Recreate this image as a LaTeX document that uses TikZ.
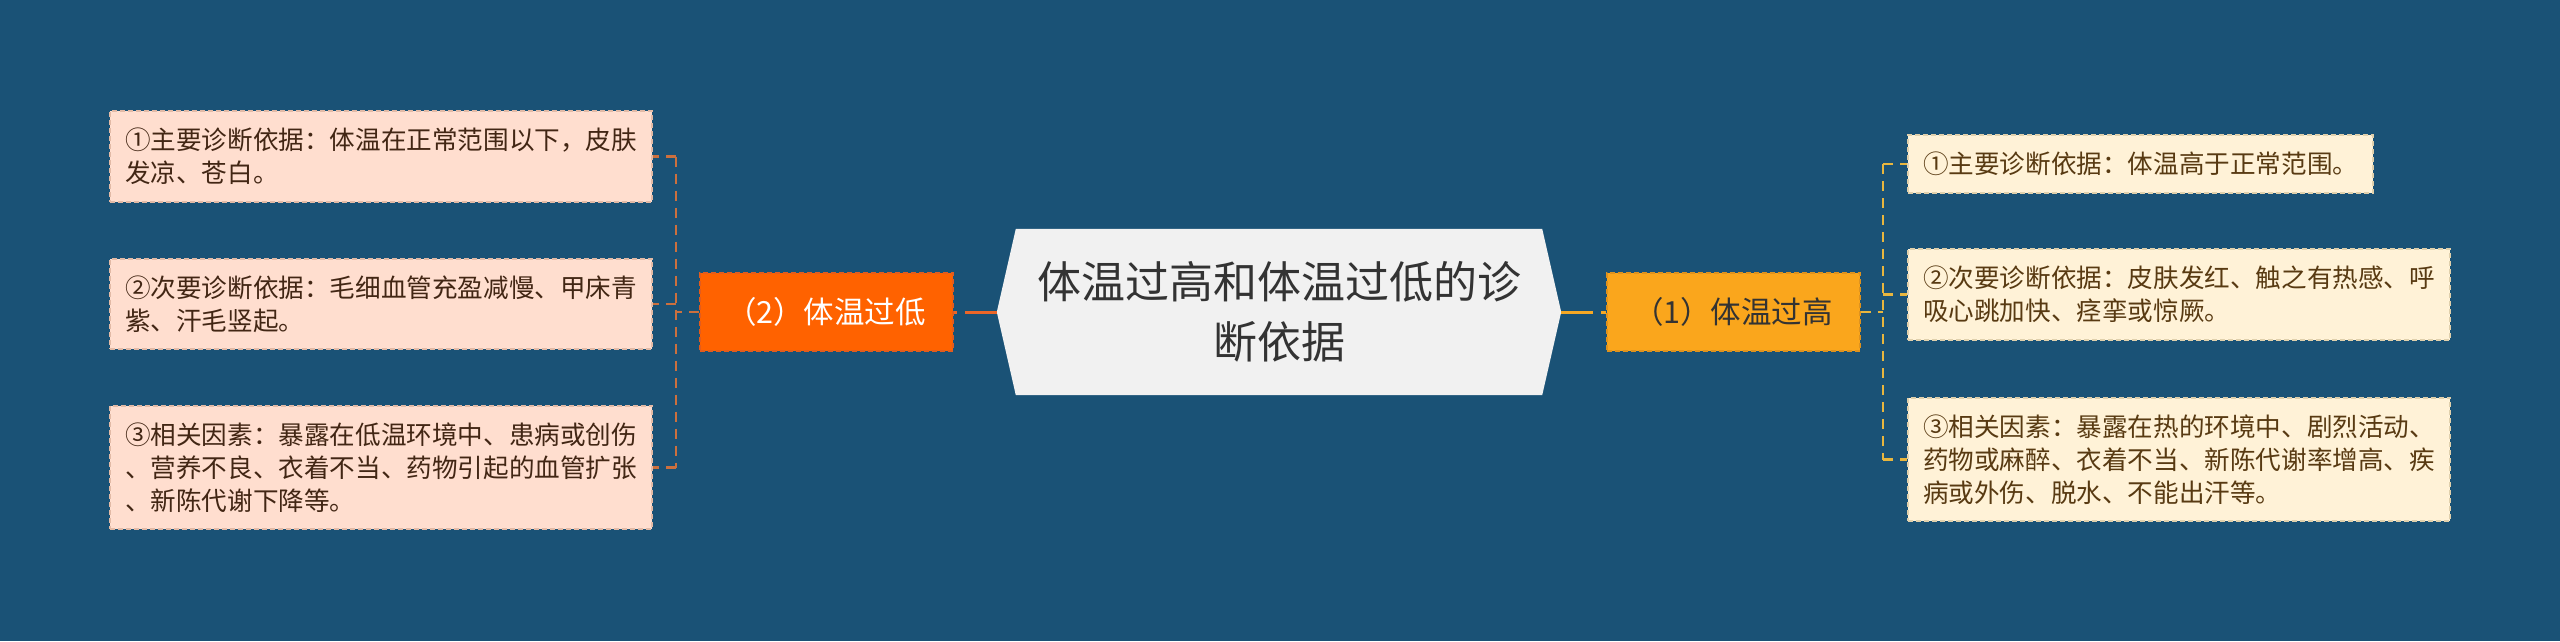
\documentclass[tikz,border=0pt]{standalone}
\usepackage{fontspec}
\setmainfont{Noto Sans CJK SC}
\usetikzlibrary{backgrounds}
\definecolor{canvasblue}{RGB}{26,82,118}
\definecolor{rootgray}{RGB}{241,241,241}
\definecolor{rootink}{RGB}{51,51,51}
\definecolor{coldfill}{RGB}{255,98,0}
\definecolor{coldedge}{RGB}{226,92,30}
\definecolor{coldleaffill}{RGB}{255,222,207}
\definecolor{coldleafedge}{RGB}{226,186,166}
\definecolor{coldink}{RGB}{66,38,20}
\definecolor{coldline}{RGB}{236,102,40}
\definecolor{coldtrunkline}{RGB}{204,112,62}
\definecolor{hotfill}{RGB}{250,166,28}
\definecolor{hotedge}{RGB}{222,146,30}
\definecolor{hotleaffill}{RGB}{255,242,215}
\definecolor{hotleafedge}{RGB}{224,208,172}
\definecolor{hotink}{RGB}{88,58,18}
\definecolor{hotline}{RGB}{246,168,36}
\definecolor{hottrunkline}{RGB}{232,182,62}
\begin{document}
\begin{tikzpicture}[x=1pt, y=-1pt,
    rootbox/.style={minimum width=564pt, minimum height=166pt, align=center, text=rootink,
        font=\fontsize{44}{60}\selectfont},
    branchbox/.style={minimum width=253pt, minimum height=78pt, line width=2pt,
        dash pattern=on 5pt off 3pt, font=\fontsize{30.5}{36}\selectfont},
    leafbox/.style={align=left, inner xsep=15pt, inner ysep=17pt, line width=2pt,
        dash pattern=on 5pt off 3pt, font=\fontsize{25.6}{33}\selectfont},
    coldleaf/.style={leafbox, anchor=east, fill=coldleaffill, draw=coldleafedge, text=coldink},
    hotleaf/.style={leafbox, anchor=west, fill=hotleaffill, draw=hotleafedge, text=hotink},
    coldtrunk/.style={draw=coldtrunkline, line width=2.5pt, dash pattern=on 10pt off 7pt},
    hottrunk/.style={draw=hottrunkline, line width=2.5pt, dash pattern=on 10pt off 7pt}]
    \useasboundingbox (0,0) rectangle (2560,641);
    \node[rootbox] (root) at (1279,312) {体温过高和体温过低的诊\\断依据};
    \node[branchbox, fill=coldfill, draw=coldedge, text=white] (cold) at (826,312) {（2）体温过低};
    \node[branchbox, fill=hotfill, draw=hotedge, text=rootink] (hot) at (1733,312) {（1）体温过高};
    \node[coldleaf] (cold1) at (653,156.5) {①主要诊断依据：体温在正常范围以下，皮肤\\发凉、苍白。};
    \node[coldleaf] (cold2) at (653,304) {②次要诊断依据：毛细血管充盈减慢、甲床青\\紫、汗毛竖起。};
    \node[coldleaf] (cold3) at (653,467.5) {③相关因素：暴露在低温环境中、患病或创伤\\、营养不良、衣着不当、药物引起的血管扩张\\、新陈代谢下降等。};
    \node[hotleaf] (hot1) at (1907,164) {①主要诊断依据：体温高于正常范围。};
    \node[hotleaf] (hot2) at (1907,294.5) {②次要诊断依据：皮肤发红、触之有热感、呼\\吸心跳加快、痉挛或惊厥。};
    \node[hotleaf] (hot3) at (1907,459.5) {③相关因素：暴露在热的环境中、剧烈活动、\\药物或麻醉、衣着不当、新陈代谢率增高、疾\\病或外伤、脱水、不能出汗等。};
    \coordinate (coldfork) at (676,312);
    \coordinate (hotfork) at (1883,312);
    \draw[coldline, line width=3pt, dash pattern=on 32pt off 8pt] (root.west) -- (cold.east);
    \draw[hotline, line width=3pt, dash pattern=on 32pt off 8pt] (root.east) -- (hot.west);
    \draw[coldtrunk] (cold.west) -- (coldfork);
    \draw[coldtrunk] (coldfork |- cold1.east) -- (coldfork |- cold3.east);
    \draw[hottrunk] (hot.east) -- (hotfork);
    \draw[hottrunk] (hotfork |- hot1.west) -- (hotfork |- hot3.west);
    \foreach \k in {1,2,3} {
        \draw[coldtrunk] (coldfork |- cold\k.east) -- (cold\k.east);
        \draw[hottrunk] (hotfork |- hot\k.west) -- (hot\k.west);
    }
    \begin{scope}[on background layer]
        \fill[canvasblue] (0,0) rectangle (2560,641);
        \fill[rootgray] (root.west) -- ([xshift=19pt]root.north west) -- ([xshift=-19pt]root.north east)
            -- (root.east) -- ([xshift=-19pt]root.south east) -- ([xshift=19pt]root.south west) -- cycle;
    \end{scope}
\end{tikzpicture}
\end{document}
